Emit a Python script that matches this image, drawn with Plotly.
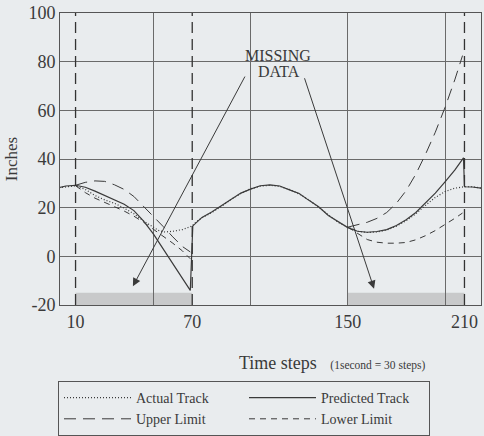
import plotly.graph_objects as go

# ---------------- data ----------------
actual_x = [0, 5, 10, 15, 20, 25, 30, 35, 40, 45, 50, 53, 56, 60, 65, 70, 72, 75,
            80, 85, 90, 95, 100, 105, 110, 115, 120, 125, 130, 135, 140, 145, 150,
            155, 160, 165, 170, 175, 180, 185, 190, 195, 200, 205, 210, 214, 219]
actual_y = [28, 28.6, 29, 27.5, 25, 23.2, 21.8, 19.8, 17.5, 14.5, 11.8, 10.5, 10, 10.3, 11, 12.5, 14.2, 15.8,
            18, 20.5, 23.4, 25.8, 27.8, 28.8, 29.2, 28.7, 27.5, 25.6, 23.2, 20.2, 17, 14, 12,
            10.3, 9.8, 10, 10.8, 12.4, 14.6, 17.5, 21, 24.2, 26.6, 28, 28.6, 28.6, 28]

pred_x = [2, 5, 10, 15, 20, 25, 30, 35, 40, 45, 50, 55, 60, 65, 69,
          70.3, 72, 75, 80, 85, 90, 95, 100, 105, 110, 115, 120, 125, 130, 135, 140, 145, 150,
          155, 160, 165, 170, 175, 180, 185, 190, 195, 200, 205, 209.5, 210, 214, 219]
pred_y = [28.3, 28.9, 29.2, 28.4, 26.8, 25.1, 23.3, 21.4, 18.8, 14.5, 9.2, 3.2, -2.8, -9.2, -14,
          12.5, 13.8, 16, 18.2, 20.8, 23.2, 26, 27.6, 29, 29.4, 28.9, 27.3, 25.8, 23, 20.4, 16.8, 14.2, 11.8,
          10.3, 9.9, 10.2, 11, 12.7, 15, 18, 21.8, 26, 30.6, 35.4, 40.5, 28.6, 28.5, 28]

upper_x = [10, 15, 20, 25, 30, 35, 40, 45, 50, 55, 60, 65, 69, None,
           150, 155, 160, 165, 170, 175, 180, 185, 190, 195, 200, 205, 209]
upper_y = [29.2, 30.4, 31, 30.8, 29.4, 27.5, 24.6, 20.6, 16.3, 12.3, 8, 4, 1.8, None,
           12, 12.9, 14, 15.6, 18, 21.8, 27, 33.8, 42, 51, 61.2, 72.5, 82.5]

lower_x = [10, 15, 20, 25, 30, 35, 40, 45, 50, 55, 60, 65, 69, None,
           150, 155, 160, 165, 170, 175, 180, 185, 190, 195, 200, 205, 209]
lower_y = [29, 26.2, 23.9, 22, 20.4, 18.6, 16.5, 14, 11.2, 8.3, 5.4, 2.2, -1, None,
           12, 9.6, 6.9, 5.8, 5.4, 5.4, 5.7, 6.8, 8.5, 10.6, 13, 15.6, 17.8]

event_steps = [10, 70, 210]                 # dashed vertical markers
missing_ranges = [(10, 70), (150, 210)]     # shaded "missing data" spans
missing_band = (-20, -15)
x_tick_vals = [10, 70, 150, 210]
x_grid_vals = [50, 100, 150, 200]
y_tick_vals = [-20, 0, 20, 40, 60, 80, 100]
y_tick_text = ["-20", "0", "20", "40", "60", "80", "100"]
arrow_heads = [(39.5, -12.3), (163.5, -13.3)]
arrow_tails = [(97.5, 74.5), (127.5, 73.8)]

# ---------------- styling ----------------
SERIF = "Liberation Serif"
INK = "#3a3a3a"
GRID = "#6a6a6a"
BG = "#e9ecee"

fig = go.Figure()
fig.add_trace(go.Scatter(x=actual_x, y=actual_y, mode="lines", name="Actual Track",
                         line=dict(color=INK, width=1.2, dash="1px,2px")))
fig.add_trace(go.Scatter(x=pred_x, y=pred_y, mode="lines", name="Predicted Track",
                         line=dict(color=INK, width=1.2)))
fig.add_trace(go.Scatter(x=upper_x, y=upper_y, mode="lines", name="Upper Limit",
                         connectgaps=False, line=dict(color=INK, width=1, dash="12px,7px")))
fig.add_trace(go.Scatter(x=lower_x, y=lower_y, mode="lines", name="Lower Limit",
                         connectgaps=False, line=dict(color=INK, width=1, dash="6px,5px")))

shapes = []
for s in event_steps:
    shapes.append(dict(type="line", xref="x", yref="paper", x0=s, x1=s, y0=0, y1=1,
                       line=dict(color="#333", width=1.3, dash="11px,6px")))
for a, b in missing_ranges:
    shapes.append(dict(type="rect", xref="x", yref="y", x0=a, x1=b,
                       y0=missing_band[0], y1=missing_band[1],
                       fillcolor="#c8c9ca", line=dict(width=0), layer="below"))

annotations = [
    dict(text="MISSING", x=114, y=82.6, xref="x", yref="y", showarrow=False,
         font=dict(family=SERIF, size=16, color=INK)),
    dict(text="DATA", x=114.5, y=76, xref="x", yref="y", showarrow=False,
         font=dict(family=SERIF, size=16, color=INK)),
    dict(text="Time steps&nbsp;&nbsp;&nbsp;<span style='font-size:11.5px'>(1second = 30 steps)</span>",
         x=0.42, y=-0.197, xref="paper", yref="paper", xanchor="left", yanchor="middle",
         showarrow=False, font=dict(family=SERIF, size=18, color=INK)),
]
for (hx, hy), (tx, ty) in zip(arrow_heads, arrow_tails):
    annotations.append(dict(text="", x=hx, y=hy, ax=tx, ay=ty, xref="x", yref="y",
                            axref="x", ayref="y", showarrow=True, arrowhead=2,
                            arrowsize=1.6, arrowwidth=1, arrowcolor=INK))

fig.update_layout(
    width=484, height=436,
    margin=dict(l=60, r=3, t=13, b=131, autoexpand=False),
    paper_bgcolor=BG, plot_bgcolor=BG,
    font=dict(family=SERIF, color=INK),
    shapes=shapes, annotations=annotations,
    showlegend=True,
    legend=dict(orientation="h", xref="container", yref="container",
                x=58 / 484, y=1 - 381 / 436, xanchor="left", yanchor="top",
                bordercolor="#555", borderwidth=1, bgcolor="rgba(0,0,0,0)",
                entrywidth=103, entrywidthmode="pixels", itemwidth=67,
                font=dict(family=SERIF, size=14, color=INK)),
)
fig.update_xaxes(range=[2, 218.5], tickmode="array", tickvals=x_tick_vals,
                 ticktext=[str(v) for v in x_tick_vals], showgrid=False, zeroline=False,
                 ticks="", showline=True, mirror=True, linecolor="#555", linewidth=1,
                 tickfont=dict(family=SERIF, size=18, color=INK),
                 minor=dict(tickmode="array", tickvals=x_grid_vals, showgrid=True,
                            gridcolor=GRID, gridwidth=1, ticks=""))
fig.update_yaxes(range=[-20, 100], tickmode="array", tickvals=y_tick_vals, ticktext=y_tick_text,
                 showgrid=True, gridcolor=GRID, gridwidth=1, zeroline=False,
                 ticks="", showline=True, mirror=True, linecolor="#555", linewidth=1,
                 tickfont=dict(family=SERIF, size=18, color=INK),
                 title=dict(text="Inches", standoff=6, font=dict(family=SERIF, size=17, color=INK)))

fig.write_html("out.html")
